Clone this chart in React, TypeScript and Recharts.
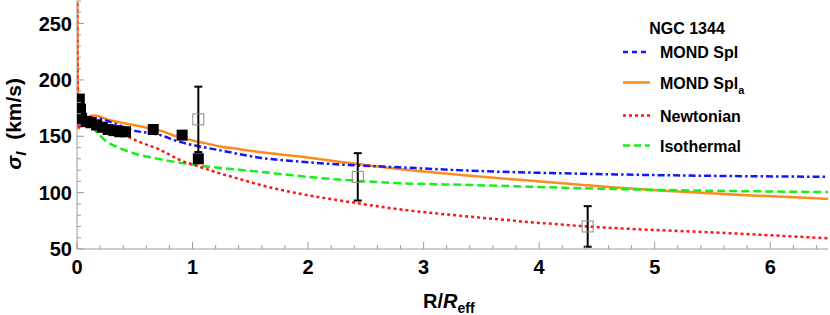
import React from 'react';
import { ComposedChart, Line, Scatter, XAxis, YAxis, ErrorBar } from 'recharts';

const FONT = '"Liberation Sans", Arial, Helvetica, sans-serif';
const AXIS = '#999999';
const BLUE = '#1414ff';
const ORANGE = '#ff8a1c';
const RED = '#ff1414';
const GREEN = '#18ee18';

// ticks
const xMajorTicks = [0, 1, 2, 3, 4, 5, 6];
const yMajorTicks = [50, 100, 150, 200, 250];
const xTicks = Array.from({ length: 33 }, (_, i) => (i * 2) / 10);
const yTicks = Array.from({ length: 23 }, (_, i) => 50 + i * 10);

// MOND Spl (blue dash-dot)
const mondSplR = [0.01, 0.05, 0.15, 0.31, 0.46, 0.72, 0.89, 1.06, 1.24, 1.58, 1.93, 2.27, 2.79, 3.4, 4.6, 6.5];
const mondSplSigma = [158, 164, 166, 162, 156, 151, 145, 141, 137.5, 131, 127.5, 125, 122.5, 119.5, 116.3, 114];

// MOND Spl_a (orange solid)
const mondSplaR = [0.001, 0.01, 0.05, 0.15, 0.26, 0.54, 0.72, 0.89, 1.06, 1.24, 1.41, 1.58, 1.93, 2.27, 2.79, 3.4, 3.63, 4.6, 4.98, 6.5];
const mondSplaSigma = [300, 157, 164, 168.5, 165, 159, 155, 149, 145, 141, 138.5, 136, 132, 127.5, 121, 115, 113, 105, 102.4, 94.4];

// Newtonian (red dotted)
const newtR = [0.001, 0.01, 0.05, 0.12, 0.2, 0.29, 0.37, 0.54, 0.72, 0.89, 1.06, 1.24, 1.41, 1.58, 1.93, 2.25, 2.79, 3.4, 4.42, 5.67, 6.5];
const newtSigma = [300, 157, 164, 167, 163, 158.5, 153.5, 145, 138, 129, 123, 117, 112, 107, 99, 93.5, 85.2, 78.7, 70, 63.9, 59.5];

// Isothermal (green dashed)
const isoR = [0, 0.01, 0.05, 0.14, 0.26, 0.37, 0.54, 0.72, 0.89, 1.06, 1.58, 2.1, 2.79, 3.4, 4.6, 6.5];
const isoSigma = [186, 178, 167, 157, 145, 139.5, 133.5, 129.6, 126.5, 124, 118.5, 113, 108.4, 106.8, 103.3, 100.5];

// observed data: filled squares
const filledR = [0.02, 0.03, 0.04, 0.08, 0.12, 0.17, 0.22, 0.27, 0.32, 0.37, 0.42, 0.66, 0.91, 1.05];
const filledSigma = [183, 174, 166, 163, 162, 160, 158, 156, 155, 154, 154, 156, 151, 130];

// observed data: open squares with errors
const openR = [1.05, 2.43, 4.42];
const openSigma = [165, 114, 70];
const openErr = [29, 21, 18];

const zip = (xs: number[], ys: number[]) => xs.map((x, i) => ({ x, y: ys[i] }));
const mondSpl = zip(mondSplR, mondSplSigma);
const mondSpla = zip(mondSplaR, mondSplaSigma);
const newt = zip(newtR, newtSigma);
const iso = zip(isoR, isoSigma);
const filled = zip(filledR, filledSigma);
const open = openR.map((x, i) => ({ x, y: openSigma[i], err: openErr[i] }));

const isMajorX = (v: number) => xMajorTicks.some((t) => Math.abs(t - v) < 1e-6);
const isMajorY = (v: number) => yMajorTicks.some((t) => Math.abs(t - v) < 1e-6);

const labelStyle = { fontFamily: FONT, fontWeight: 'bold' as const, fontSize: 20, fill: '#000' };

const BottomTick = (p: any) => {
  const { x, y, payload } = p;
  const major = isMajorX(payload.value);
  return (
    <g>
      <line x1={x} x2={x} y1={y} y2={y - (major ? 7 : 4)} stroke={AXIS} strokeWidth={1} />
      {major && (
        <text x={x} y={y + 25} textAnchor="middle" {...labelStyle}>
          {Math.round(payload.value)}
        </text>
      )}
    </g>
  );
};

const TopTick = (p: any) => {
  const { x, y, payload } = p;
  const major = isMajorX(payload.value);
  return <line x1={x} x2={x} y1={y} y2={y + (major ? 7 : 4)} stroke={AXIS} strokeWidth={1} />;
};

const LeftTick = (p: any) => {
  const { x, y, payload } = p;
  const major = isMajorY(payload.value);
  return (
    <g>
      <line x1={x} x2={x + (major ? 7 : 4)} y1={y} y2={y} stroke={AXIS} strokeWidth={1} />
      {major && (
        <text x={x - 5} y={y + 7} textAnchor="end" {...labelStyle}>
          {payload.value}
        </text>
      )}
    </g>
  );
};

const RightTick = (p: any) => {
  const { x, y, payload } = p;
  const major = isMajorY(payload.value);
  return <line x1={x} x2={x - (major ? 7 : 4)} y1={y} y2={y} stroke={AXIS} strokeWidth={1} />;
};

const FilledSquare = (p: any) => {
  const { cx, cy } = p;
  if (cx == null || cy == null) return null;
  return <rect x={cx - 5.5} y={cy - 5.5} width={11} height={11} fill="#000" />;
};

const OpenSquare = (p: any) => {
  const { cx, cy } = p;
  if (cx == null || cy == null) return null;
  return <rect x={cx - 5.5} y={cy - 5.5} width={11} height={11} fill="none" stroke="#8a8a8a" strokeWidth={1} />;
};

const legendRows = [
  { label: 'MOND Spl', sub: '', color: BLUE, dash: '5 4', y: 52 },
  { label: 'MOND Spl', sub: 'a', color: ORANGE, dash: undefined, y: 82.5 },
  { label: 'Newtonian', sub: '', color: RED, dash: '3 3', y: 115.5 },
  { label: 'Isothermal', sub: '', color: GREEN, dash: '7 4', y: 145.5 },
];

export default function App() {
  return (
    <div style={{ position: 'absolute', left: 0, top: 0, width: 830, height: 315, background: '#fff' }}>
      <ComposedChart width={830} height={315} margin={{ top: 1, right: 2, bottom: 0, left: 0 }}>
        <XAxis
          xAxisId="b"
          type="number"
          dataKey="x"
          domain={[0, 6.5]}
          allowDataOverflow
          ticks={xTicks}
          interval={0}
          tickLine={false}
          tickSize={0}
          tickMargin={0}
          tick={BottomTick}
          axisLine={{ stroke: AXIS }}
          height={66}
          orientation="bottom"
        />
        <XAxis
          xAxisId="t"
          type="number"
          dataKey="x"
          domain={[0, 6.5]}
          allowDataOverflow
          ticks={xTicks}
          interval={0}
          tickLine={false}
          tickSize={0}
          tickMargin={0}
          tick={TopTick}
          axisLine={{ stroke: AXIS }}
          height={0}
          orientation="top"
        />
        <YAxis
          yAxisId="l"
          type="number"
          dataKey="y"
          domain={[50, 270]}
          allowDataOverflow
          ticks={yTicks}
          interval={0}
          tickLine={false}
          tickSize={0}
          tickMargin={0}
          tick={LeftTick}
          axisLine={{ stroke: AXIS }}
          width={77}
          orientation="left"
        />
        <YAxis
          yAxisId="r"
          type="number"
          dataKey="y"
          domain={[50, 270]}
          allowDataOverflow
          ticks={yTicks}
          interval={0}
          tickLine={false}
          tickSize={0}
          tickMargin={0}
          tick={RightTick}
          axisLine={{ stroke: AXIS }}
          width={0}
          orientation="right"
        />
        <Line xAxisId="b" yAxisId="l" data={mondSpla} dataKey="y" type="monotone" stroke={ORANGE} strokeWidth={2.5} dot={false} isAnimationActive={false} />
        <Line xAxisId="b" yAxisId="l" data={mondSpl} dataKey="y" type="monotone" stroke={BLUE} strokeWidth={2.5} strokeDasharray="7 3 2.5 3" dot={false} isAnimationActive={false} />
        <Line xAxisId="b" yAxisId="l" data={iso} dataKey="y" type="monotone" stroke={GREEN} strokeWidth={2.5} strokeDasharray="8 4" dot={false} isAnimationActive={false} />
        <Line xAxisId="b" yAxisId="l" data={newt} dataKey="y" type="monotone" stroke={RED} strokeWidth={2.5} strokeDasharray="3 3" dot={false} isAnimationActive={false} />
        <Scatter xAxisId="b" yAxisId="l" data={filled} dataKey="y" shape={FilledSquare} isAnimationActive={false} />
        <Scatter xAxisId="b" yAxisId="l" data={open} dataKey="y" shape={OpenSquare} isAnimationActive={false}>
          <ErrorBar dataKey="err" direction="y" width={4} stroke="#000" strokeWidth={2} />
        </Scatter>
      </ComposedChart>
      <svg width={830} height={315} style={{ position: 'absolute', left: 0, top: 0, pointerEvents: 'none' }}>
        <text x={687} y={34} textAnchor="middle" fontFamily={FONT} fontWeight="bold" fontSize={16} fill="#000">
          NGC 1344
        </text>
        {legendRows.map((r, i) => (
          <g key={i}>
            <line x1={623} x2={650} y1={r.y} y2={r.y} stroke={r.color} strokeWidth={2.5} strokeDasharray={r.dash} />
            <text x={660} y={r.y + 6} fontFamily={FONT} fontWeight="bold" fontSize={16} fill="#000">
              {r.label}
              {r.sub && (
                <tspan fontSize={11} dy={5}>
                  {r.sub}
                </tspan>
              )}
            </text>
          </g>
        ))}
        <text x={423} y={308} fontFamily={FONT} fontWeight="bold" fontSize={20} fill="#000">
          <tspan>R/</tspan>
          <tspan fontStyle="italic">R</tspan>
          <tspan fontSize={14} dy={5}>eff</tspan>
        </text>
        <text transform="translate(21,78) rotate(-90)" textAnchor="end" fontFamily={FONT} fontWeight="bold" fontSize={21} fill="#000">
          <tspan fontStyle="italic">σ</tspan>
          <tspan fontStyle="italic" fontSize={15} dy={5}>I</tspan>
          <tspan dy={-5} dx={6}> (km/s)</tspan>
        </text>
      </svg>
    </div>
  );
}
